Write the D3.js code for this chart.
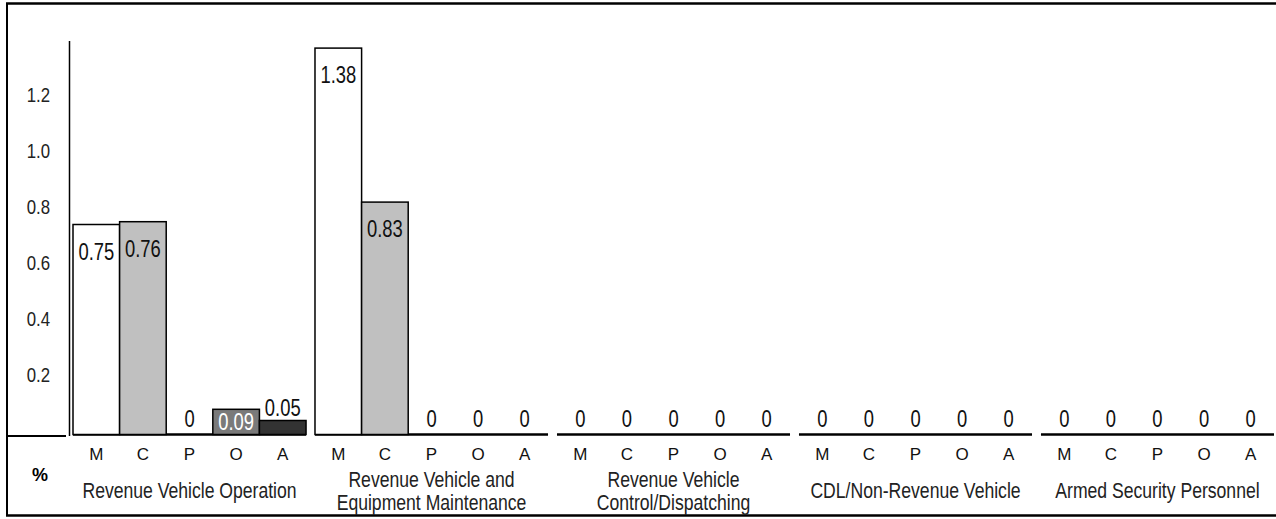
<!DOCTYPE html>
<html>
<head>
<meta charset="utf-8">
<script src="https://cdn.jsdelivr.net/npm/d3@7"></script>
<style>
  html, body { margin: 0; padding: 0; background: #fff; }
  svg { display: block; }
</style>
</head>
<body>
<div id="chart"></div>
<script>
// data
var groups = ["rvo", "rvem", "rvcd", "cdl", "asp"];
var groupLabels = [
  ["Revenue Vehicle Operation"],
  ["Revenue Vehicle and", "Equipment Maintenance"],
  ["Revenue Vehicle", "Control/Dispatching"],
  ["CDL/Non-Revenue Vehicle"],
  ["Armed Security Personnel"]
];
var types = ["M", "C", "P", "O", "A"];
var valM = [0.75, 1.38, 0, 0, 0];
var valC = [0.76, 0.83, 0, 0, 0];
var valP = [0, 0, 0, 0, 0];
var valO = [0.09, 0, 0, 0, 0];
var valA = [0.05, 0, 0, 0, 0];
var yTicks = [0.2, 0.4, 0.6, 0.8, 1.0, 1.2];

var series = [valM, valC, valP, valO, valA];
var fills = ["#ffffff", "#c0c0c0", "#ffffff", "#7a7a7a", "#333333"];
var labelColors = ["#111", "#111", "#111", "#ffffff", "#111"];

var width = 1276, height = 519;
var font = "'Liberation Sans', Arial, sans-serif";
var squeeze = 0.8; // narrow look

var svg = d3.select("#chart")
  .append("svg")
  .attr("width", width)
  .attr("height", height);

var baseY = 434.5;

var x0 = d3.scaleBand().domain(groups).range([73, 1274]).paddingInner(0.037);
var x1 = d3.scaleBand().domain(types).range([0, x0.bandwidth()]);
var y = d3.scaleLinear().domain([0, 1.4]).range([baseY, 42.5]);

// draws condensed text at (x,y)
function narrowText(parent, str, x, yy, size, anchor, color) {
  return parent.append("text")
    .attr("transform", "translate(" + x + "," + yy + ") scale(" + squeeze + ",1)")
    .attr("dy", "0.35em")
    .attr("text-anchor", anchor)
    .style("font-family", font)
    .style("font-size", size + "px")
    .attr("fill", color)
    .text(str);
}

// frame
svg.append("line").attr("x1", 7).attr("x2", 7).attr("y1", 3).attr("y2", 516)
  .attr("stroke", "#000").attr("stroke-width", 2);
svg.append("line").attr("x1", 6).attr("x2", width).attr("y1", 3.5).attr("y2", 3.5)
  .attr("stroke", "#000").attr("stroke-width", 2.5);
svg.append("line").attr("x1", 6).attr("x2", width).attr("y1", 515.5).attr("y2", 515.5)
  .attr("stroke", "#000").attr("stroke-width", 2.5);
svg.append("line").attr("x1", 7).attr("x2", 66).attr("y1", 436).attr("y2", 436)
  .attr("stroke", "#000").attr("stroke-width", 2);

// y axis
var yAxis = svg.append("g").attr("class", "yaxis");
yAxis.append("line").attr("x1", 69.5).attr("x2", 69.5).attr("y1", 41).attr("y2", 436)
  .attr("stroke", "#000").attr("stroke-width", 1.5);
yTicks.forEach(function(t) {
  narrowText(yAxis, d3.format(".1f")(t), 50, y(t) - 4, 21, "end", "#222");
});

// bars
var gGroups = svg.selectAll(".grp")
  .data(groups)
  .enter().append("g")
  .attr("class", "grp")
  .attr("transform", function(d) { return "translate(" + x0(d) + ",0)"; });

gGroups.append("line")
  .attr("x1", 0).attr("x2", x0.bandwidth())
  .attr("y1", baseY).attr("y2", baseY)
  .attr("stroke", "#000").attr("stroke-width", 2.5);

gGroups.each(function(gname, gi) {
  var g = d3.select(this);
  var rows = types.map(function(t, ti) { return { t: t, ti: ti, v: series[ti][gi] }; });

  g.selectAll("rect.bar")
    .data(rows.filter(function(r) { return r.v > 0; }))
    .enter().append("rect")
    .attr("class", "bar")
    .attr("x", function(r) { return x1(r.t); })
    .attr("y", function(r) { return y(r.v); })
    .attr("width", x1.bandwidth())
    .attr("height", function(r) { return baseY - y(r.v); })
    .attr("fill", function(r) { return fills[r.ti]; })
    .attr("stroke", "#000")
    .attr("stroke-width", 1.5);

  rows.forEach(function(r) {
    var top = y(r.v), h = baseY - top, ly, col = "#111";
    if (h >= 40) { ly = top + 27; col = labelColors[r.ti]; }
    else if (h >= 20) { ly = top + h / 2; col = labelColors[r.ti]; }
    else ly = Math.min(top - 13, baseY - 16);
    narrowText(g, r.v === 0 ? "0" : r.v.toFixed(2), x1(r.t) + x1.bandwidth() / 2, ly, 23, "middle", col);
  });

  g.selectAll("text.type")
    .data(types)
    .enter().append("text")
    .attr("class", "type")
    .attr("x", function(t) { return x1(t) + x1.bandwidth() / 2; })
    .attr("y", 454)
    .attr("dy", "0.35em")
    .attr("text-anchor", "middle")
    .style("font-family", font)
    .style("font-size", "17px")
    .attr("fill", "#111")
    .text(function(t) { return t; });

  var lines = groupLabels[gi];
  var startY = lines.length > 1 ? 479 : 490;
  lines.forEach(function(l, i) {
    narrowText(g, l, x0.bandwidth() / 2, startY + i * 23, 22, "middle", "#222");
  });
});

svg.append("text")
  .attr("x", 40).attr("y", 475).attr("dy", "0.35em")
  .attr("text-anchor", "middle")
  .style("font-family", font)
  .style("font-size", "18px")
  .style("font-weight", "bold")
  .text("%");
</script>
</body>
</html>
